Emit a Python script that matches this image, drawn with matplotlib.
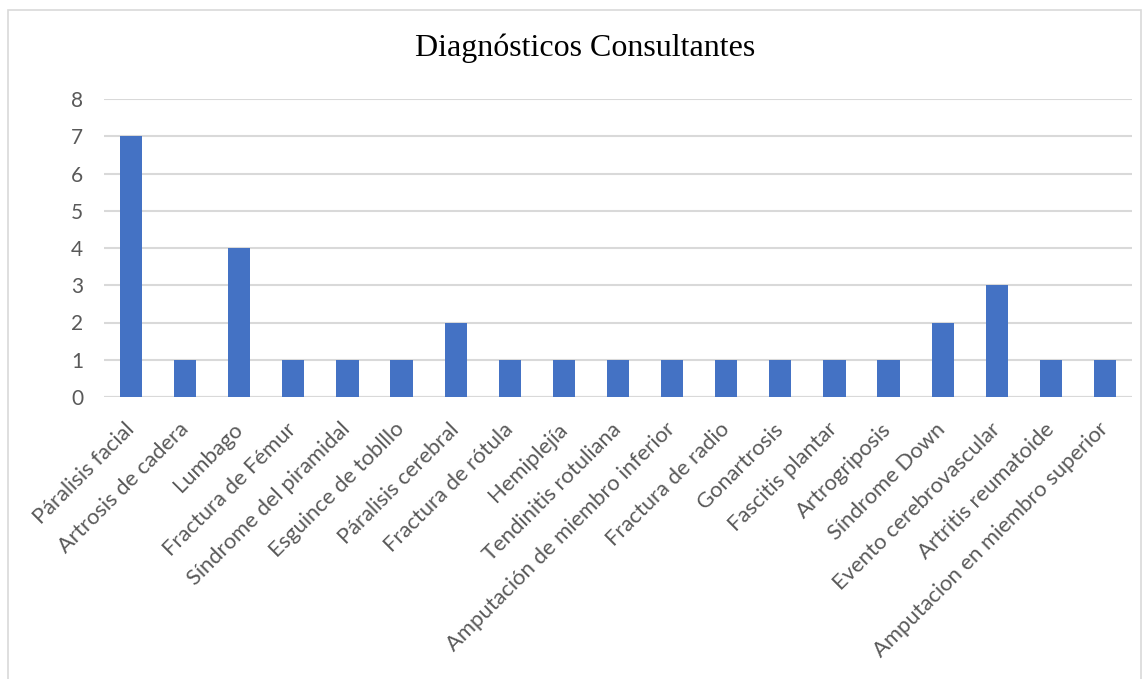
import numpy as np
import matplotlib
matplotlib.use('agg')
import matplotlib.pyplot as plt
from matplotlib.patches import Rectangle

categories = [
    'Páralisis facial', 'Artrosis de cadera', 'Lumbago', 'Fractura de Fémur',
    'Síndrome del piramidal', 'Esguince de toblllo', 'Páralisis cerebral',
    'Fractura de rótula', 'Hemiplejía', 'Tendinitis rotuliana',
    'Amputación de miembro inferior', 'Fractura de radio', 'Gonartrosis',
    'Fascitis plantar', 'Artrogriposis', 'Síndrome Down',
    'Evento cerebrovascular', 'Artritis reumatoide',
    'Amputacion en miembro superior',
]
values = [7, 1, 4, 1, 1, 1, 2, 1, 1, 1, 1, 1, 1, 1, 1, 2, 3, 1, 1]
y_ticks = [0, 1, 2, 3, 4, 5, 6, 7, 8]

W, H = 1147, 679
fig = plt.figure(figsize=(W / 100, H / 100), dpi=100)

# chart border
fig.patches.append(Rectangle((8 / W, -0.1), 1133 / W, 1.1 - 10 / H,
                             transform=fig.transFigure, fill=False,
                             edgecolor='#d9d9d9', linewidth=1.2))

ax = fig.add_axes([104 / W, 1 - 397 / H, 1028 / W, 298 / H])
x = np.arange(len(categories))
ax.bar(x, values, width=0.41, color='#4472C4', zorder=3)

ax.set_xlim(-0.5, len(categories) - 0.5)
ax.set_ylim(0, 8)
ax.set_yticks(y_ticks)
ax.yaxis.grid(True, color='#d9d9d9', linewidth=1.5, zorder=0)
for s in ax.spines.values():
    s.set_visible(False)
ax.axhline(0, color='#d9d9d9', linewidth=1.5, zorder=2)
ax.tick_params(length=0)
ax.tick_params(axis='y', pad=15, labelsize=15, labelcolor='#595959')
for lab in ax.get_yticklabels():
    lab.set_family('Lato')

ax.set_xticks(x)
ax.set_xticklabels(categories, rotation=45, ha='right', va='center',
                   rotation_mode='anchor', fontsize=15.8, color='#595959',
                   family='Lato')
ax.tick_params(axis='x', pad=21)

fig.text(585 / W, 1 - 48 / H, 'Diagnósticos Consultantes', ha='center',
         va='center', fontsize=23, family='Liberation Serif')

plt.savefig('out.png', dpi=100)
